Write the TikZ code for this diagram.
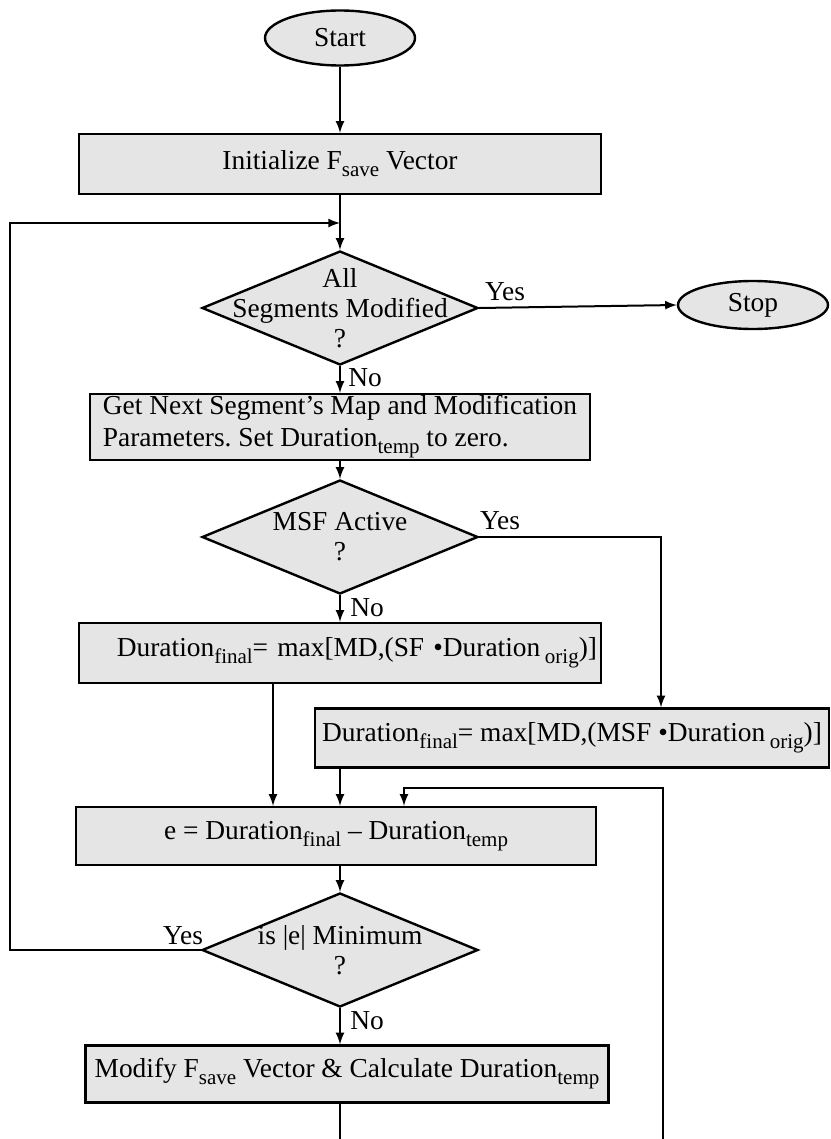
\documentclass[tikz,border=0pt]{standalone}
\usepackage{fontspec}
\setmainfont{Liberation Serif}
\usetikzlibrary{shapes.geometric}

% low subscript as in the scanned figure
\newcommand{\lowsub}[1]{\raisebox{-3.5pt}{\fontsize{10.5}{12}\selectfont #1}}

\tikzset{
  blk/.style={draw, line width=1.2pt, fill=black!10, inner sep=0pt, align=center, font=\fontsize{13.7}{16}\selectfont},
  term/.style={blk, ellipse},
  proc/.style={blk, rectangle},
  dec/.style={draw, line width=1.2pt, fill=black!10, diamond, inner sep=0pt, minimum width=138pt, minimum height=57pt},
  dtxt/.style={align=center, inner sep=0pt, font=\fontsize{13.7}{15}\selectfont},
  lbl/.style={inner sep=0pt, font=\fontsize{13.7}{16}\selectfont},
  flow/.style={line width=1pt, -latex},
  wire/.style={line width=1pt}
}

\begin{document}
\begin{tikzpicture}[x=0.5pt,y=0.5pt,yscale=-1]
		\useasboundingbox (0,0) rectangle (830,1139);
		\clip (0,0) rectangle (830,1139);
		
		% start / stop
		\node [term, minimum width=75pt, minimum height=27.5pt] (start) at (340,38) {Start};
		\node [term, minimum width=75pt, minimum height=24pt] (stop) at (753,305) {Stop};
		
		% process boxes
		\node [proc, minimum width=261pt, minimum height=30pt] (init) at (340,164) {Initialize F\lowsub{save} Vector};
		\node [proc, minimum width=250pt, minimum height=33pt, align=left] (getnext) at (340,427) {Get Next Segment's Map and Modification\\Parameters.\ Set Duration\lowsub{temp} to zero.};
		\node [proc, minimum width=261pt, minimum height=30pt, text width=257pt, align=right] (sfdur) at (340,653) {Duration\lowsub{final}= max[MD,(SF \textbullet Duration\,\lowsub{orig})]};
		\node [proc, minimum width=257pt, minimum height=29.5pt] (msfdur) at (572,738) {Duration\lowsub{final}= max[MD,(MSF \textbullet Duration\,\lowsub{orig})]};
		\node [proc, minimum width=260pt, minimum height=29pt] (err) at (336,836) {e = Duration\lowsub{final} -- Duration\lowsub{temp}};
		\node [proc, minimum width=261.5pt, minimum height=28.5pt] (modify) at (347,1074) {Modify F\lowsub{save} Vector \& Calculate Duration\lowsub{temp}};
		
		% decisions
		\node [dec] (alldone) at (340,308) {};
		\node [dtxt] (alldonetxt) at (alldone) {All\\Segments Modified\\?};
		\node [dec] (msf) at (340,537) {};
		\node [dtxt] (msftxt) at (msf) {MSF Active\\?};
		\node [dec] (emin) at (340,950) {};
		\node [dtxt] (emintxt) at (emin) {is |e| Minimum\\?};
		
		% branch labels
		\node [lbl] (yes1) at (505,292) {Yes};
		\node [lbl, anchor=west] (no1) at (348,378) {No};
		\node [lbl] (yes2) at (500,521) {Yes};
		\node [lbl, anchor=west] (no2) at (350,608) {No};
		\node [lbl] (yes3) at (183,936) {Yes};
		\node [lbl, anchor=west] (no3) at (350,1021) {No};
		
		% corner points
		\coordinate (jn) at (340,223);
		\coordinate (lp) at (10,223);
		\coordinate (rt) at (661,537);
		\coordinate (sfout) at (273,683);
		\coordinate (lb) at (663,788);
		\coordinate (lbin) at (404,788);
		
		% connectors
		\draw [flow] (start) -- (init);
		\draw [flow] (init) -- (alldone);
		\draw [flow] (emin.west) -| (lp) -- (jn);
		\draw [flow] (alldone.east) -- (stop.west);
		\draw [flow] (alldone) -- (getnext);
		\draw [flow] (getnext) -- (msf);
		\draw [flow] (msf.east) -- (rt) -- (rt |- msfdur.north);
		\draw [flow] (msf) -- (sfdur);
		\draw [flow] (sfout) -- (sfout |- err.north);
		\draw [flow] (msfdur.south -| alldone) -- (alldone |- err.north);
		\draw [flow] (err.south -| emin) -- (emin);
		\draw [flow] (emin) -- (emin |- modify.north);
		\draw [flow] (emin |- modify.south) -- ++(0,90) -| (lb) -- (lbin) -- (lbin |- err.north);
		
\end{tikzpicture}
\end{document}
